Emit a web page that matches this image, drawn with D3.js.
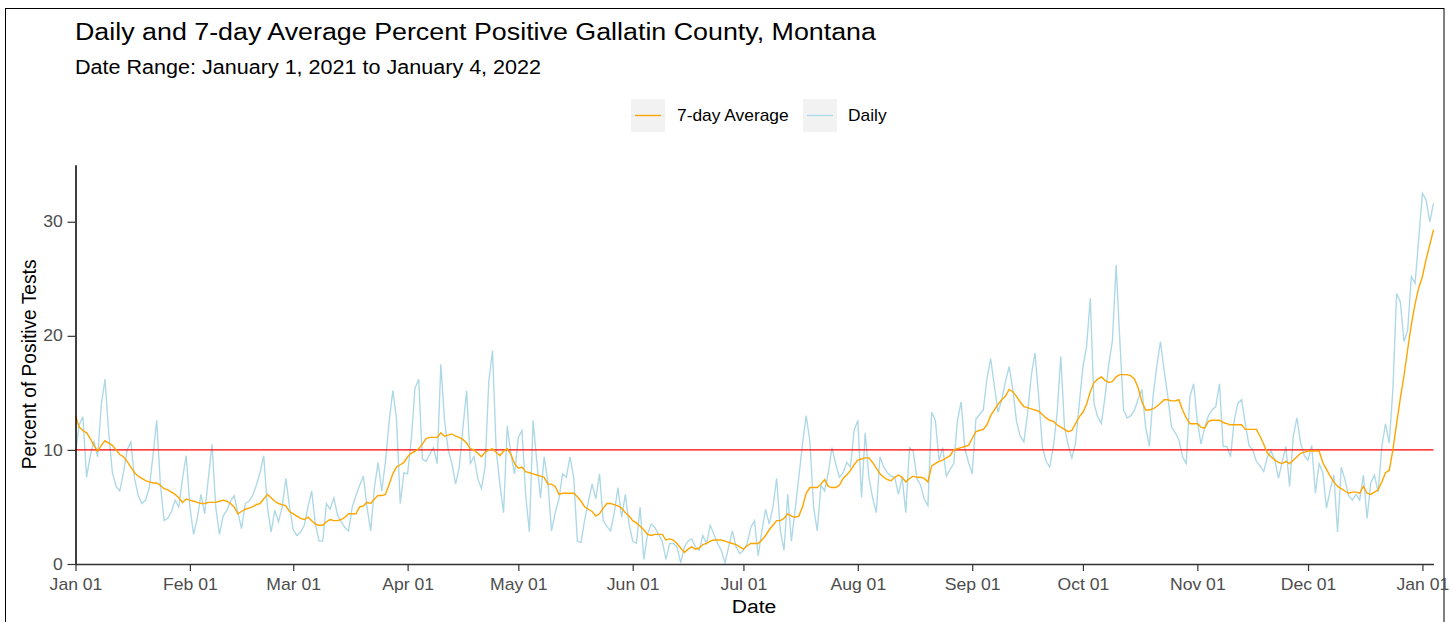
<!DOCTYPE html>
<html lang="en">
<head>
  <meta charset="UTF-8">
  <title>Daily and 7-day Average Percent Positive Gallatin County, Montana</title>
  <script src="https://d3js.org/d3.v7.min.js"></script>
  <style>
    body, html { margin: 0; background: #fff; }
    svg { display: block; font-family: "Liberation Sans", Arial, sans-serif; }
  </style>
</head>
<body>
  <svg width="1451" height="622"></svg>
  <script>
    // Values, one per day starting Jan 1, 2021
    const startDate = "2021-01-01";

    const dailyPct = [
      9.8,12.2,12.9,7.6,9.5,10.8,9.4,14.0,16.2,11.5,
      8.0,6.8,6.4,8.0,10.0,10.7,7.5,6.0,5.3,5.6,
      6.7,9.5,12.6,7.0,3.8,4.0,4.6,5.6,5.0,7.5,
      9.5,5.0,2.6,4.0,6.1,4.4,7.5,10.5,5.0,2.6,
      4.2,4.7,5.5,6.0,4.5,3.1,5.3,5.5,6.0,6.9,
      8.0,9.5,5.0,2.8,4.7,3.7,5.0,7.5,5.0,3.0,
      2.5,2.8,3.4,5.0,6.4,3.5,2.0,2.0,5.3,4.8,
      5.8,4.3,3.7,3.2,2.9,5.0,6.0,6.9,7.7,5.0,
      2.9,6.7,8.9,6.4,9.0,12.5,15.2,12.7,5.3,8.0,
      7.9,11.0,15.4,16.2,9.2,9.0,9.6,10.2,8.8,17.5,
      12.6,10.0,8.8,7.0,8.5,12.0,15.2,8.8,9.4,7.5,
      6.6,8.5,16.0,18.7,10.0,7.0,4.5,12.1,9.6,7.9,
      11.1,11.7,6.0,2.8,12.6,9.0,5.8,9.4,7.2,2.9,
      4.5,5.7,7.9,7.6,9.4,7.6,2.0,1.9,3.9,5.5,
      7.0,5.7,7.9,3.8,3.3,2.9,4.5,6.7,4.1,6.1,
      3.5,2.0,1.8,5.0,0.4,2.6,3.5,3.2,2.6,2.0,
      0.4,1.8,1.8,1.5,0.1,1.5,2.0,2.2,1.5,1.2,
      2.5,1.8,3.4,2.6,1.8,1.2,0.1,1.5,2.9,1.5,
      0.9,1.2,1.8,3.2,3.8,0.7,2.9,4.8,3.5,5.0,
      7.5,2.9,1.2,6.1,2.0,4.7,7.6,10.5,13.0,10.8,
      5.0,2.9,6.9,6.4,8.0,10.2,8.8,7.6,8.0,8.9,
      8.5,11.7,12.6,5.8,11.5,7.6,5.8,4.5,9.4,8.5,
      8.0,7.7,7.6,6.1,7.6,4.5,10.2,9.9,7.5,6.9,
      5.7,5.1,13.3,12.6,9.1,10.2,7.7,8.3,8.8,12.6,
      14.2,10.1,8.9,7.9,12.7,13.1,13.5,16.3,18.0,15.6,
      13.3,14.4,16.0,17.3,15.3,12.5,11.2,10.7,13.2,16.5,
      18.5,14.7,10.3,9.0,8.5,10.3,13.2,18.2,12.0,10.4,
      9.3,10.6,14.0,17.3,19.1,23.3,14.1,12.9,12.3,14.7,
      17.5,19.6,26.2,19.6,13.5,12.8,13.0,13.5,14.5,15.3,
      12.0,10.3,14.7,17.3,19.5,17.0,14.7,12.0,11.5,10.9,
      9.4,8.8,14.7,15.8,12.5,10.5,12.0,13.0,13.5,13.8,
      15.8,10.3,10.3,9.4,12.6,14.1,14.4,12.3,10.4,10.0,
      9.0,8.6,8.1,9.4,9.9,9.1,7.5,9.0,10.3,6.8,
      11.2,12.8,10.6,9.5,9.1,10.4,6.2,8.8,8.0,4.9,
      6.5,7.8,2.8,8.5,7.4,6.0,5.6,6.1,5.6,7.8,
      4.0,7.1,7.8,6.3,10.3,12.3,10.6,15.3,23.7,23.0,
      19.5,20.5,25.2,24.6,28.5,32.5,31.9,30.0,31.6
    ];

    const avgPct = [
      13.0,12.0,11.7,11.5,11.0,10.4,9.9,10.4,10.8,10.6,
      10.4,10.0,9.6,9.4,9.0,8.5,8.0,7.7,7.5,7.3,
      7.2,7.1,7.1,6.9,6.6,6.5,6.3,6.1,5.8,5.4,
      5.7,5.6,5.5,5.4,5.3,5.3,5.4,5.4,5.4,5.5,
      5.6,5.5,5.3,5.0,4.4,4.6,4.8,4.9,5.0,5.2,
      5.3,5.7,6.1,5.8,5.5,5.3,5.2,5.1,4.6,4.4,
      4.2,4.0,3.9,4.1,3.8,3.5,3.4,3.4,3.7,3.9,
      3.8,3.8,3.9,4.1,4.4,4.4,4.4,5.0,5.1,5.4,
      5.3,5.7,6.0,6.0,6.1,7.0,7.9,8.5,8.7,8.9,
      9.4,9.7,9.9,10.1,10.5,11.0,11.1,11.1,11.1,11.5,
      11.2,11.3,11.4,11.2,11.1,10.9,10.6,10.1,10.0,9.7,
      9.4,9.8,10.0,10.1,9.8,9.5,9.9,10.1,9.6,8.8,
      8.4,8.5,8.1,8.0,7.9,7.8,7.7,7.6,7.0,7.0,
      6.8,6.1,6.2,6.2,6.2,6.2,5.9,5.5,5.0,4.8,
      4.6,4.2,4.4,4.9,5.3,5.3,5.2,5.1,4.9,4.5,
      4.2,3.8,3.6,3.3,3.0,2.6,2.5,2.6,2.6,2.6,
      2.1,2.2,2.1,1.8,1.4,1.0,1.3,1.5,1.3,1.4,
      1.7,1.8,2.0,2.1,2.1,2.1,2.0,1.9,1.8,1.7,
      1.5,1.3,1.6,1.8,1.8,1.8,2.1,2.5,3.0,3.4,
      3.8,3.8,4.0,4.4,4.2,4.1,4.2,5.0,6.2,6.7,
      6.7,6.7,7.0,7.4,6.8,6.7,6.7,6.9,7.5,7.8,
      8.2,8.7,9.1,9.2,9.3,9.3,8.9,8.4,7.9,7.6,
      7.4,7.3,7.6,7.8,7.6,7.2,7.5,7.7,7.6,7.6,
      7.5,7.2,8.6,8.8,9.0,9.1,9.3,9.5,10.0,10.1,
      10.2,10.3,10.4,11.0,11.6,11.7,11.8,12.2,13.0,13.5,
      14.0,14.4,14.7,15.3,15.1,14.7,14.2,13.8,13.7,13.6,
      13.5,13.4,13.1,12.8,12.6,12.5,12.2,12.0,11.8,11.6,
      11.7,12.3,12.9,13.3,14.0,15.1,15.9,16.2,16.4,16.1,
      15.9,16.0,16.4,16.6,16.6,16.6,16.5,16.2,15.4,14.2,
      13.5,13.5,13.6,13.8,14.1,14.4,14.4,14.3,14.3,14.4,
      13.5,12.8,12.3,12.3,12.3,12.0,11.9,12.5,12.6,12.6,
      12.6,12.4,12.3,12.2,12.2,12.2,12.2,11.8,11.8,11.8,
      11.8,11.2,10.5,9.7,9.4,9.1,8.9,8.8,9.0,8.8,
      9.1,9.4,9.7,9.8,9.9,9.9,9.9,9.9,8.9,8.3,
      7.7,7.2,6.8,6.6,6.4,6.2,6.3,6.3,6.2,6.8,
      6.2,6.1,6.3,6.5,7.2,8.0,8.2,10.0,12.3,14.5,
      16.5,18.8,21.0,22.8,24.2,25.2,26.7,28.0,29.3
    ];

    const yTicks = [0, 10, 20, 30];
    const threshold = 10;
    const seriesNames = ["7-day Average", "Daily"];

    const svg = d3.select("svg");
    const SX = 1.1; // the reference text is a little wider than plain Arial

    // frame round the whole plot
    svg.append("rect")
      .attr("x", 5.5).attr("y", 8.5)
      .attr("width", 1438.5).attr("height", 700)
      .attr("fill", "none").attr("stroke", "#000").attr("stroke-width", 1);

    const start = d3.timeParse("%Y-%m-%d")(startDate);
    const dates = dailyPct.map((_, i) => d3.timeDay.offset(start, i));

    const x = d3.scaleTime()
      .domain([start, dates[dates.length - 1]])
      .range([75.5, 1433.5]);
    const y = d3.scaleLinear()
      .domain([0, 35])
      .range([564, 164.7]);

    function addText(px, py, str, size, anchor, color) {
      return svg.append("text")
        .attr("transform", `translate(${px},${py}) scale(${SX},1)`)
        .attr("text-anchor", anchor || "start")
        .attr("font-size", size)
        .attr("fill", color || "#000")
        .text(str);
    }

    // titles
    addText(75, 40, "Daily and 7-day Average Percent Positive Gallatin County, Montana", 24.4);
    addText(75, 74, "Date Range: January 1, 2021 to January 4, 2022", 19.6);

    // legend
    const legendItems = [
      {name: seriesNames[0], color: "#FFA500", kx: 631, tx: 677},
      {name: seriesNames[1], color: "#ADD8E6", kx: 803, tx: 848}
    ];
    legendItems.forEach(d => {
      svg.append("rect").attr("x", d.kx).attr("y", 99).attr("width", 34).attr("height", 33)
        .attr("fill", "#F2F2F2");
      svg.append("line").attr("x1", d.kx + 4).attr("x2", d.kx + 30)
        .attr("y1", 115.5).attr("y2", 115.5)
        .attr("stroke", d.color).attr("stroke-width", 1.4);
      addText(d.tx, 121, d.name, 15.8, "start", "#000");
    });

    // lines
    const line = d3.line()
      .x((d, i) => x(dates[i]))
      .y(d => y(d));

    svg.append("path").datum(dailyPct)
      .attr("d", line)
      .attr("fill", "none").attr("stroke", "#ADD8E6").attr("stroke-width", 1.35);

    svg.append("line")
      .attr("x1", x.range()[0]).attr("x2", x.range()[1])
      .attr("y1", y(threshold)).attr("y2", y(threshold))
      .attr("stroke", "#FF0000").attr("stroke-width", 1.4);

    svg.append("path").datum(avgPct)
      .attr("d", line)
      .attr("fill", "none").attr("stroke", "#FFA500").attr("stroke-width", 1.4);

    // axes
    const xAxis = svg.append("g")
      .attr("transform", `translate(0,${y(0)})`)
      .call(d3.axisBottom(x)
        .tickValues(d3.timeMonth.range(start, d3.timeDay.offset(start, dates.length)))
        .tickFormat(d3.timeFormat("%b %d"))
        .tickSize(7).tickSizeOuter(0));
    xAxis.select(".domain").attr("stroke", "#333").attr("stroke-width", 1.5);
    xAxis.selectAll(".tick line").attr("stroke", "#333").attr("stroke-width", 1.2);
    xAxis.selectAll(".tick text")
      .attr("y", 26).attr("dy", null)
      .attr("transform", `scale(${SX},1)`)
      .attr("font-size", 16).attr("font-family", null).attr("fill", "#4D4D4D");

    const yAxis = svg.append("g")
      .attr("transform", `translate(${x.range()[0]},0)`)
      .call(d3.axisLeft(y).tickValues(yTicks).tickSize(8).tickSizeOuter(0));
    yAxis.select(".domain").attr("stroke", "#000").attr("stroke-width", 1.5);
    yAxis.selectAll(".tick line").attr("stroke", "#333").attr("stroke-width", 1.2);
    yAxis.selectAll(".tick text")
      .attr("x", -11.5)
      .attr("transform", `scale(${SX},1)`)
      .attr("font-size", 16).attr("font-family", null).attr("fill", "#4D4D4D");

    // axis titles
    addText(754, 613, "Date", 19.2, "middle");
    svg.append("text")
      .attr("transform", `translate(36,${(y(0) + y(35)) / 2}) rotate(-90) scale(1,${SX})`)
      .attr("text-anchor", "middle")
      .attr("font-size", 19.2)
      .attr("fill", "#000")
      .text("Percent of Positive Tests");
  </script>
</body>
</html>
